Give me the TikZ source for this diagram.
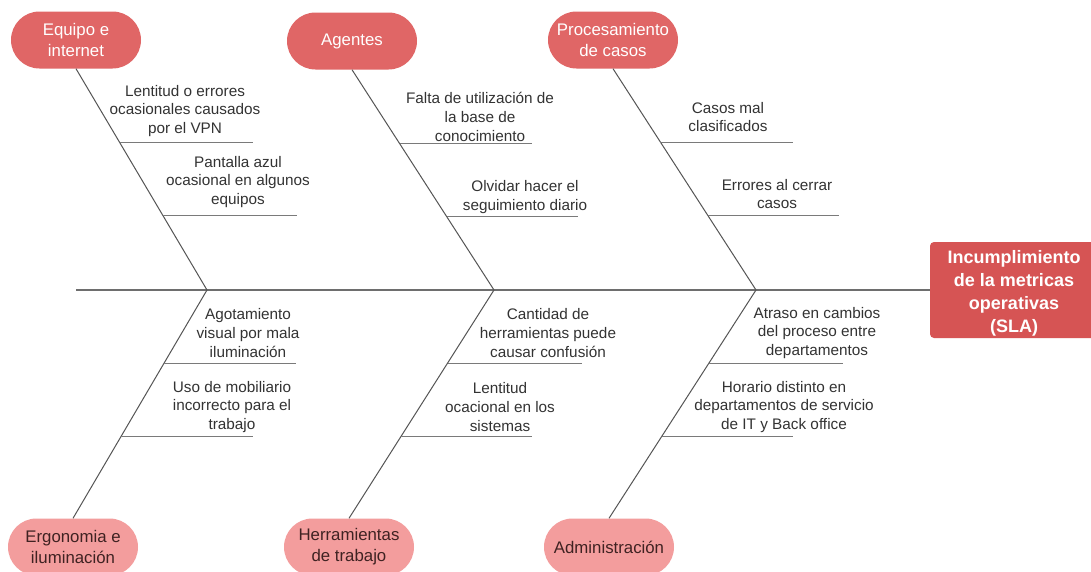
\documentclass[tikz,border=0pt]{standalone}
\usepackage{fontspec}
\setmainfont{Liberation Sans}
\usetikzlibrary{calc}
\definecolor{pilltop}{HTML}{E06666}
\definecolor{pillbot}{HTML}{F39D9D}
\definecolor{effect}{HTML}{D65454}
\definecolor{bone}{HTML}{555555}
\definecolor{twig}{HTML}{7A7A7A}
\definecolor{ink}{HTML}{333333}
\definecolor{pillink}{HTML}{3F2222}

\begin{document}
\begin{tikzpicture}[x=1pt,y=-1pt,
  pill/.style={rectangle, rounded corners=28.5pt, minimum width=130pt,
    minimum height=57pt, inner sep=0pt, align=center,
    font=\fontsize{16.8}{21}\selectfont},
  catup/.style={pill, fill=pilltop, text=white},
  catdown/.style={pill, fill=pillbot, text=pillink},
  effectbox/.style={rectangle, rounded corners=4pt, fill=effect, text=white,
    minimum width=166pt, minimum height=96pt, inner sep=0pt, align=center,
    font=\fontsize{18}{23}\selectfont\bfseries},
  cause/.style={align=center, text=ink, inner sep=0pt,
    font=\fontsize{15.3}{18.6}\selectfont},
  bonel/.style={draw=bone, line width=1pt},
  spinel/.style={draw=bone!85, line width=1.2pt},
  twigl/.style={draw=twig, line width=0.9pt},
]
\useasboundingbox (0,0) rectangle (1091,571);
\clip (0,0) rectangle (1091,571);
\fill[white] (0,0) rectangle (1091,571);

% category heads
\node[catup] (eq) at (76,40) {Equipo e\\internet};
\node[catup] (ag) at (352,41) {Agentes};
\node[catup] (pr) at (613,40) {Procesamiento\\de casos};
\node[catdown] (er) at (73,547) {Ergonomia e\\iluminación};
\node[catdown] (he) at (349,547) {Herramientas\\de trabajo};
\node[catdown] (ad) at (609,547) {Administración};

% effect box, its text sits a little low as in the original layout
\node[effectbox] (sla) at (1013,290) {};
\node[text=white, align=center, inner sep=0pt,
  font=\fontsize{18}{23}\selectfont\bfseries] (slatext) at (1014,293)
  {Incumplimiento\\de la metricas\\operativas\\(SLA)};

% junctions on the spine
\coordinate (j1) at (207,290);
\coordinate (j2) at (494,290);
\coordinate (j3) at (756,290);
\coordinate (sp0) at (76,290);

% spine
\draw[spinel] (sp0) -- (sla.west);

% main bones
\draw[bonel] (eq.south) -- (j1) -- (er.north);
\draw[bonel] (ag.south) -- (j2) -- (he.north);
\draw[bonel] (pr.south) -- (j3) -- (ad.north);

% points where the sub-causes leave the bones
\coordinate (eq1) at ($(eq.south)!0.334!(j1)$);
\coordinate (eq2) at ($(eq.south)!0.664!(j1)$);
\coordinate (ag1) at ($(ag.south)!0.336!(j2)$);
\coordinate (ag2) at ($(ag.south)!0.668!(j2)$);
\coordinate (pr1) at ($(pr.south)!0.332!(j3)$);
\coordinate (pr2) at ($(pr.south)!0.664!(j3)$);
\coordinate (er1) at ($(j1)!0.32!(er.north)$);
\coordinate (er2) at ($(j1)!0.64!(er.north)$);
\coordinate (he1) at ($(j2)!0.32!(he.north)$);
\coordinate (he2) at ($(j2)!0.64!(he.north)$);
\coordinate (ad1) at ($(j3)!0.32!(ad.north)$);
\coordinate (ad2) at ($(j3)!0.64!(ad.north)$);

% sub-cause lines
\draw[twigl] (eq1) -- (eq1 -| 253,0);
\draw[twigl] (eq2) -- (eq2 -| 297,0);
\draw[twigl] (ag1) -- (ag1 -| 532,0);
\draw[twigl] (ag2) -- (ag2 -| 578,0);
\draw[twigl] (pr1) -- (pr1 -| 793,0);
\draw[twigl] (pr2) -- (pr2 -| 839,0);
\draw[twigl] (er1) -- (er1 -| 296,0);
\draw[twigl] (er2) -- (er2 -| 253,0);
\draw[twigl] (he1) -- (he1 -| 582,0);
\draw[twigl] (he2) -- (he2 -| 532,0);
\draw[twigl] (ad1) -- (ad1 -| 843,0);
\draw[twigl] (ad2) -- (ad2 -| 793,0);

% sub-cause texts
\node[cause] (teq1) at (185,111) {Lentitud o errores\\ocasionales causados\\por el VPN};
\node[cause] (teq2) at (238,182) {Pantalla azul\\ocasional en algunos\\equipos};
\node[cause] (tag1) at (480,117) {Falta de utilización de\\la base de\\conocimiento};
\node[cause] (tag2) at (525,197) {Olvidar hacer el\\seguimiento diario};
\node[cause] (tpr1) at (728,117) {Casos mal\\clasificados};
\node[cause] (tpr2) at (777,194) {Errores al cerrar\\casos};
\node[cause] (ter1) at (248,333) {Agotamiento\\visual por mala\\iluminación};
\node[cause] (ter2) at (232,407) {Uso de mobiliario\\incorrecto para el\\trabajo};
\node[cause] (the1) at (548,333) {Cantidad de\\herramientas puede\\causar confusión};
\node[cause] (the2) at (500,407) {Lentitud\\ocacional en los\\sistemas};
\node[cause] (tad1) at (817,333) {Atraso en cambios\\del proceso entre\\departamentos};
\node[cause] (tad2) at (784,407) {Horario distinto en\\departamentos de servicio\\de IT y Back office};
\end{tikzpicture}
\end{document}
